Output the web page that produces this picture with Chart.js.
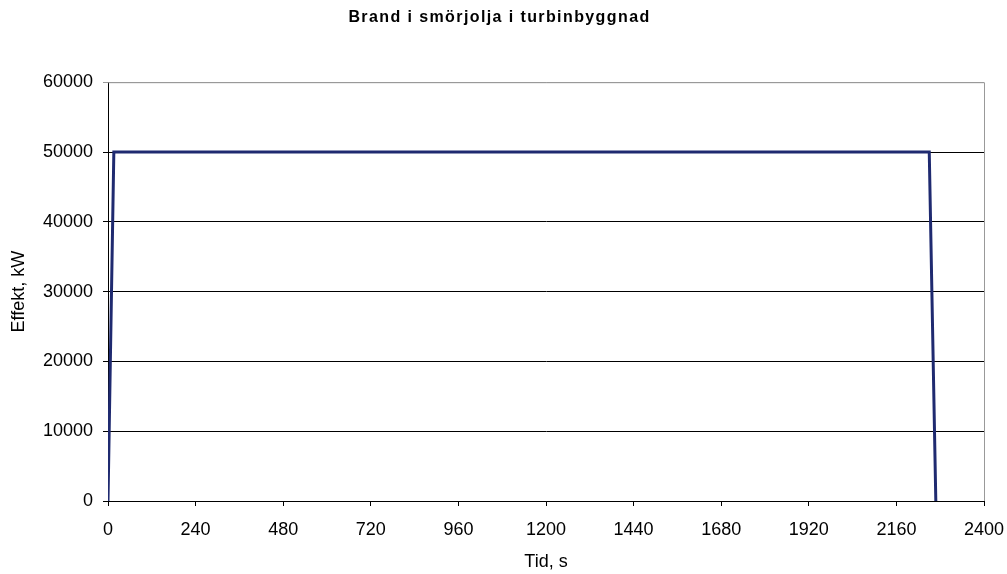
<!DOCTYPE html>
<html>
<head>
<meta charset="utf-8">
<script src="https://cdn.jsdelivr.net/npm/chart.js@4/dist/chart.umd.min.js"></script>
<style>
html,body{margin:0;padding:0;background:#fff;}
#wrap{width:1007px;height:574px;}
</style>
</head>
<body>
<div id="wrap"><canvas id="c" width="1007" height="574"></canvas></div>
<script>
const titleText = "Brand i smörjolja i turbinbyggnad";
const xTitle = "Tid, s";
const yTitle = "Effekt, kW";
const timeValues = [0, 16, 2250, 2268];
const effektValues = [0, 50000, 50000, 0];
const xTicks = [0, 240, 480, 720, 960, 1200, 1440, 1680, 1920, 2160, 2400];
const yTicks = [0, 10000, 20000, 30000, 40000, 50000, 60000];

const points = timeValues.map((t, i) => ({x: t, y: effektValues[i]}));

const borderPlugin = {
  id: 'grayBorder',
  beforeDraw(chart) {
    const tb = chart.titleBlock;
    if (tb && !tb._spaced) {
      const orig = tb.draw;
      tb.draw = function () {
        const ctx = this.ctx;
        ctx.save();
        ctx.letterSpacing = '1.4px';
        orig.apply(this, arguments);
        ctx.restore();
      };
      tb._spaced = true;
    }
  },
  afterDatasetsDraw(chart) {
    const {ctx, chartArea: a} = chart;
    ctx.save();
    ctx.strokeStyle = '#999999';
    ctx.lineWidth = 1;
    ctx.beginPath();
    ctx.moveTo(a.left, a.top + 0.5);
    ctx.lineTo(a.right + 0.5, a.top + 0.5);
    ctx.lineTo(a.right + 0.5, a.bottom);
    ctx.stroke();
    ctx.restore();
  }
};

Chart.defaults.font.family = "'Liberation Sans', Arial, sans-serif";
Chart.defaults.color = '#000';

new Chart(document.getElementById('c'), {
  type: 'line',
  data: {
    datasets: [{
      data: points,
      borderColor: '#1F2A70',
      borderWidth: 3,
      pointRadius: 0,
      tension: 0,
      fill: false
    }]
  },
  options: {
    responsive: false,
    animation: false,
    layout: {padding: {left: 0, right: 8, top: 0, bottom: 0}},
    plugins: {
      legend: {display: false},
      tooltip: {enabled: false},
      title: {
        display: true,
        text: titleText,
        font: {size: 16, weight: 'bold'},
        color: '#000',
        padding: {top: 8, bottom: 55}
      }
    },
    scales: {
      x: {
        type: 'linear',
        min: 0, max: 2400,
        afterBuildTicks(s) { s.ticks = xTicks.map(v => ({value: v})); },
        afterFit(s) { s.height = 73; s.paddingRight = 23; s.paddingLeft = 0; },
        ticks: {font: {size: 18}, color: '#000', padding: 13, maxRotation: 0, callback: v => String(v)},
        grid: {drawOnChartArea: false, drawTicks: true, tickLength: 5, color: '#000', lineWidth: 1},
        border: {color: '#000', width: 1},
        title: {display: true, text: xTitle, font: {size: 18}, color: '#000', padding: {top: 4, bottom: 1}}
      },
      y: {
        min: 0, max: 60000,
        afterBuildTicks(s) { s.ticks = yTicks.map(v => ({value: v})); },
        afterFit(s) { s.width = 108; },
        ticks: {font: {size: 18}, color: '#000', padding: 10, callback: v => String(v)},
        grid: {
          color: c => (c.tick && c.tick.value === 60000) ? '#999999' : '#000',
          lineWidth: 1, drawTicks: true, tickLength: 5
        },
        border: {color: '#000', width: 1},
        title: {display: true, text: yTitle, font: {size: 18}, color: '#000', padding: {top: 8, bottom: 0}}
      }
    }
  },
  plugins: [borderPlugin]
});
</script>
</body>
</html>
